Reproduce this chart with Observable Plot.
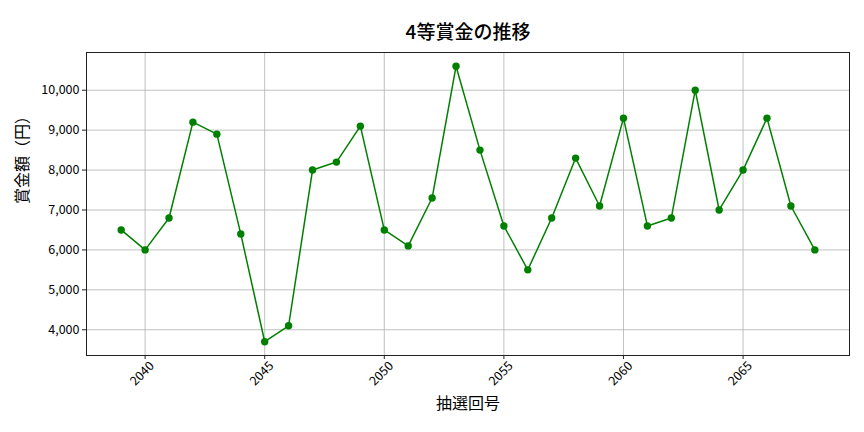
<!DOCTYPE html>
<html>
<head>
<meta charset="utf-8">
<script src="https://cdn.jsdelivr.net/npm/d3@7"></script>
<script src="https://cdn.jsdelivr.net/npm/@observablehq/plot@0.6"></script>
<style>
  body { margin: 0; background: #fff; }
  #chart svg { display: block; }
</style>
</head>
<body>
<div id="chart"></div>
<script>
const draws = [2039,2040,2041,2042,2043,2044,2045,2046,2047,2048,2049,2050,2051,2052,2053,2054,2055,2056,2057,2058,2059,2060,2061,2062,2063,2064,2065,2066,2067,2068];
const prizes = [6500,6000,6800,9200,8900,6400,3700,4100,8000,8200,9100,6500,6100,7300,10600,8500,6600,5500,6800,8300,7100,9300,6600,6800,10000,7000,8000,9300,7100,6000];
const xTicks = [2040,2045,2050,2055,2060,2065];
const yTicks = [4000,5000,6000,7000,8000,9000,10000];
const titleText = "4等賞金の推移";
const xLabel = "抽選回号";
const yLabel = "賞金額（円）";

const data = draws.map((d, i) => ({draw: d, prize: prizes[i]}));
const font = "'Noto Sans CJK JP', 'Noto Sans', sans-serif";

const chart = Plot.plot({
  width: 864,
  height: 432,
  marginLeft: 86,
  marginRight: 15,
  marginTop: 52,
  marginBottom: 77,
  style: {fontFamily: font, fontSize: "12.5px", color: "#000", background: "#fff"},
  x: {domain: [2037.55, 2069.45], label: null},
  y: {domain: [3355, 10945], label: null},
  marks: [
    Plot.gridX(xTicks, {stroke: "#b0b0b0", strokeOpacity: 1, strokeWidth: 0.8}),
    Plot.gridY(yTicks, {stroke: "#b0b0b0", strokeOpacity: 1, strokeWidth: 0.8}),
    Plot.axisY({ticks: yTicks, tickFormat: d3.format(","), tickSize: 4, tickPadding: 3, stroke: "#222", fill: "#000", fontSize: 12.5, label: null}),
    Plot.axisX({ticks: xTicks, tickSize: 4, tickFormat: () => "", stroke: "#222", label: null}),
    Plot.text(xTicks, {x: d => d, frameAnchor: "bottom", dy: 21, rotate: -45, textAnchor: "middle", text: d => String(d), fontSize: 12.5, fill: "#000"}),
    Plot.frame({stroke: "#222", strokeWidth: 1}),
    Plot.line(data, {x: "draw", y: "prize", stroke: "green", strokeWidth: 1.5}),
    Plot.dot(data, {x: "draw", y: "prize", fill: "green", r: 3.7, stroke: "none"}),
    Plot.text([titleText], {frameAnchor: "top", dy: -27, text: d => d, fontSize: 19, fontWeight: 500, fill: "#000"}),
    Plot.text([xLabel], {frameAnchor: "bottom", dy: 53, text: d => d, fontSize: 16, fill: "#000"}),
    Plot.text([yLabel], {frameAnchor: "left", dx: -64, rotate: -90, text: d => d, fontSize: 16, fill: "#000"})
  ]
});
document.getElementById("chart").appendChild(chart);
</script>
</body>
</html>
